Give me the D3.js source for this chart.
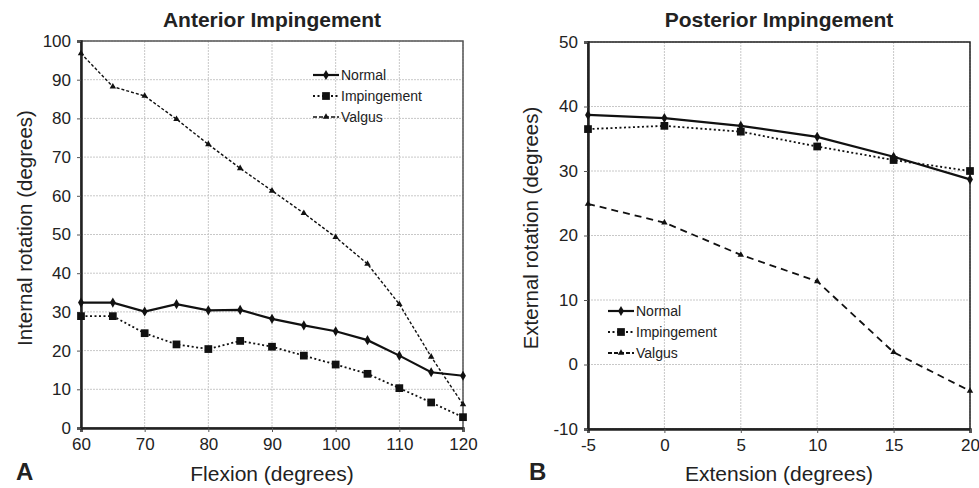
<!DOCTYPE html>
<html>
<head>
<meta charset="utf-8">
<script src="https://cdn.jsdelivr.net/npm/d3@7"></script>
<style>
  body { margin: 0; background: #fff; }
  text { font-family: "Liberation Sans", Arial, sans-serif; fill: #222; }
</style>
</head>
<body>
<svg id="chart" width="979" height="488"></svg>
<script>
// Anterior impingement (panel A)
const flexion = [60, 65, 70, 75, 80, 85, 90, 95, 100, 105, 110, 115, 120];
const antNormal = [32.4, 32.4, 30.1, 32.0, 30.4, 30.5, 28.2, 26.5, 25.0, 22.7, 18.7, 14.4, 13.5];
const antImpingement = [28.9, 28.9, 24.5, 21.6, 20.4, 22.5, 21.0, 18.7, 16.4, 14.0, 10.3, 6.6, 2.8];
const antValgus = [96.8, 88.2, 85.8, 79.8, 73.3, 67.1, 61.3, 55.5, 49.3, 42.4, 32.0, 18.4, 6.1];
const flexionTicks = [60, 70, 80, 90, 100, 110, 120];
const internalTicks = [0, 10, 20, 30, 40, 50, 60, 70, 80, 90, 100];

// Posterior impingement (panel B)
const extension = [-5, 0, 5, 10, 15, 20];
const postNormal = [38.7, 38.2, 37.0, 35.3, 32.2, 28.7];
const postImpingement = [36.5, 37.0, 36.1, 33.8, 31.7, 30.0];
const postValgus = [24.9, 22.0, 17.0, 12.9, 1.9, -4.1];
const extensionTicks = [-5, 0, 5, 10, 15, 20];
const externalTicks = [-10, 0, 10, 20, 30, 40, 50];

const seriesNames = ['Normal', 'Impingement', 'Valgus'];

const svg = d3.select('#chart');
const fmt = d => String(d); // plain hyphen for negatives

function drawPanel(opts) {
  const x = d3.scaleLinear().domain(opts.xDomain).range([opts.left, opts.right]);
  const y = d3.scaleLinear().domain(opts.yDomain).range([opts.bottom, opts.top]);
  const g = svg.append('g');

  // grid
  g.append('g')
    .selectAll('line')
    .data(opts.xTicks)
    .enter()
    .append('line')
    .attr('x1', d => x(d)).attr('x2', d => x(d))
    .attr('y1', opts.top).attr('y2', opts.bottom)
    .attr('stroke', '#c8c8c8').attr('stroke-dasharray', '2,1');
  g.append('g')
    .selectAll('line')
    .data(opts.yTicks)
    .enter()
    .append('line')
    .attr('x1', opts.left).attr('x2', opts.right)
    .attr('y1', d => y(d)).attr('y2', d => y(d))
    .attr('stroke', '#c8c8c8').attr('stroke-dasharray', '2,1');

  // frame
  g.append('rect')
    .attr('x', opts.left).attr('y', opts.top)
    .attr('width', opts.right - opts.left).attr('height', opts.bottom - opts.top)
    .attr('fill', 'none').attr('stroke', opts.frame).attr('stroke-width', 1.5);

  // axes
  const xa = g.append('g')
    .attr('transform', `translate(0,${opts.bottom})`)
    .call(d3.axisBottom(x).tickValues(opts.xTicks).tickFormat(fmt).tickSize(4).tickPadding(6));
  const ya = g.append('g')
    .attr('transform', `translate(${opts.left},0)`)
    .call(d3.axisLeft(y).tickValues(opts.yTicks).tickFormat(fmt).tickSize(4).tickPadding(6));
  [xa, ya].forEach(a => {
    a.select('.domain').attr('stroke', '#222').attr('stroke-width', 2.5);
    a.selectAll('.tick line').attr('stroke', '#555');
    a.selectAll('.tick text').style('font-size', '17px').attr('fill', '#222');
  });

  // series
  const styles = [
    { dash: null, width: 2.2, marker: 'diamond' },
    { dash: '2,2.5', width: 1.8, marker: 'square' },
    { dash: opts.valgusDash, width: opts.valgusWidth, marker: 'triangle' }
  ];
  const markerSym = {
    diamond: d3.symbol().type(d3.symbolDiamond).size(30),
    square: d3.symbol().type(d3.symbolSquare).size(60),
    triangle: d3.symbol().type(d3.symbolTriangle).size(18)
  };
  opts.series.forEach((vals, i) => {
    const st = styles[i];
    const pts = opts.xs.map((xv, j) => [xv, vals[j]]);
    const line = d3.line().x(d => x(d[0])).y(d => y(d[1]));
    g.append('path')
      .datum(pts)
      .attr('d', line)
      .attr('fill', 'none')
      .attr('stroke', '#111')
      .attr('stroke-width', st.width)
      .attr('stroke-dasharray', st.dash);
    g.selectAll('.m' + i)
      .data(pts)
      .enter()
      .append('path')
      .attr('d', markerSym[st.marker])
      .attr('transform', d => `translate(${x(d[0])},${y(d[1])})`)
      .attr('fill', '#111');
  });

  // legend
  const lg = g.append('g').attr('transform', `translate(${opts.legX},${opts.legY})`);
  seriesNames.forEach((name, i) => {
    const st = styles[i];
    const row = lg.append('g').attr('transform', `translate(0,${i * 21})`);
    row.append('line')
      .attr('x1', 0).attr('x2', 26)
      .attr('stroke', '#111')
      .attr('stroke-width', st.width)
      .attr('stroke-dasharray', i === 2 ? '4,2' : st.dash);
    row.append('path')
      .attr('d', markerSym[st.marker])
      .attr('transform', 'translate(13,0)')
      .attr('fill', '#111');
    row.append('text')
      .attr('x', 28).attr('y', 5)
      .style('font-size', '14px')
      .text(name);
  });

  // titles
  const cx = (opts.left + opts.right) / 2;
  g.append('text')
    .attr('x', cx).attr('y', 27)
    .attr('text-anchor', 'middle')
    .style('font-size', '21px').style('font-weight', 'bold')
    .text(opts.title);
  g.append('text')
    .attr('x', cx).attr('y', 481)
    .attr('text-anchor', 'middle')
    .style('font-size', '21px')
    .text(opts.xLabel);
  g.append('text')
    .attr('transform', `translate(${opts.yLabelX},228) rotate(-90)`)
    .attr('text-anchor', 'middle')
    .style('font-size', '20.5px')
    .text(opts.yLabel);
  g.append('text')
    .attr('x', opts.letterX).attr('y', 480)
    .style('font-size', '24px').style('font-weight', 'bold')
    .text(opts.letter);
}

drawPanel({
  xDomain: [60, 120], yDomain: [0, 100],
  left: 81, right: 463, top: 41, bottom: 428,
  xTicks: flexionTicks, yTicks: internalTicks,
  xs: flexion, series: [antNormal, antImpingement, antValgus],
  valgusDash: '3,2', valgusWidth: 1.4,
  frame: '#555',
  legX: 313, legY: 75,
  title: 'Anterior Impingement', xLabel: 'Flexion (degrees)',
  yLabel: 'Internal rotation (degrees)', yLabelX: 32,
  letter: 'A', letterX: 16
});

drawPanel({
  xDomain: [-5, 20], yDomain: [-10, 50],
  left: 588, right: 970, top: 42, bottom: 429,
  xTicks: extensionTicks, yTicks: externalTicks,
  xs: extension, series: [postNormal, postImpingement, postValgus],
  valgusDash: '7,5', valgusWidth: 1.8,
  frame: '#222',
  legX: 608, legY: 311,
  title: 'Posterior Impingement', xLabel: 'Extension (degrees)',
  yLabel: 'External rotation (degrees)', yLabelX: 538,
  letter: 'B', letterX: 529
});
</script>
</body>
</html>
